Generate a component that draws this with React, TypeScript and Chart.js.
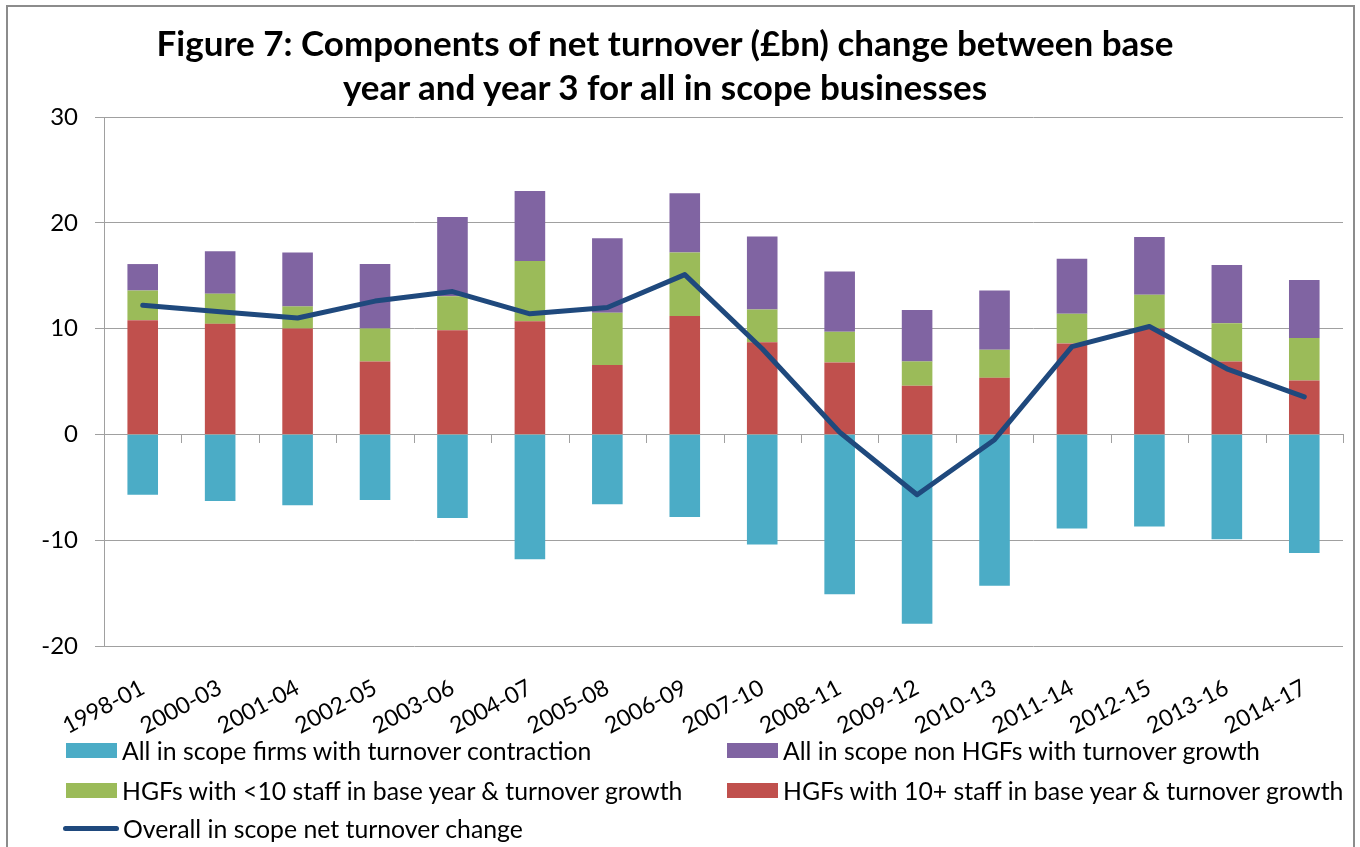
import React, { useEffect, useRef } from 'react';
import { Chart, registerables } from 'chart.js';

Chart.register(...registerables);

const categories = ['1998-01', '2000-03', '2001-04', '2002-05', '2003-06', '2004-07', '2005-08', '2006-09', '2007-10', '2008-11', '2009-12', '2010-13', '2011-14', '2012-15', '2013-16', '2014-17'];
const contraction = [-5.7, -6.3, -6.7, -6.2, -7.9, -11.8, -6.6, -7.8, -10.4, -15.1, -17.9, -14.3, -8.9, -8.7, -9.9, -11.2];
const nonHgfGrowth = [2.5, 4.0, 5.1, 6.1, 7.5, 6.6, 7.05, 5.6, 6.9, 5.7, 4.85, 5.6, 5.2, 5.45, 5.5, 5.5];
const hgfSmallGrowth = [2.8, 2.85, 2.1, 3.1, 3.2, 5.7, 4.95, 6.0, 3.1, 2.9, 2.3, 2.65, 2.8, 3.2, 3.6, 4.0];
const hgfLargeGrowth = [10.8, 10.45, 10.0, 6.9, 9.85, 10.7, 6.55, 11.2, 8.7, 6.8, 4.6, 5.35, 8.6, 10.0, 6.9, 5.1];
const netChange = [12.2, 11.6, 11.0, 12.6, 13.5, 11.4, 12.0, 15.1, 8.1, 0.2, -5.7, -0.5, 8.3, 10.2, 6.2, 3.55];
const yMin = -20;
const yMax = 30;
const yStep = 10;

const titleLines = [
  'Figure 7: Components of net turnover (£bn) change between base',
  'year and year 3 for all in scope businesses',
];

const LBL_CONTRACTION = 'All in scope firms with turnover contraction';
const LBL_NONHGF = 'All in scope non HGFs with turnover growth';
const LBL_SMALL = 'HGFs with <10 staff in base year & turnover growth';
const LBL_LARGE = 'HGFs with 10+ staff in base year & turnover growth';
const LBL_NET = 'Overall in scope net turnover change';

const C_CONTRACTION = '#4BACC6';
const C_NONHGF = '#8064A2';
const C_SMALL = '#9BBB59';
const C_LARGE = '#C0504D';
const C_NET = '#1F497D';
const GRID = '#a0a0a0';
const FONT = 'Lato, "Open Sans", "DejaVu Sans", sans-serif';

const zeroTickPlugin = {
  id: 'zeroTicks',
  beforeDatasetsDraw(chart: any) {
    const xs = chart.scales.x;
    const ys = chart.scales.y;
    const y0 = Math.round(ys.getPixelForValue(0));
    const ctx = chart.ctx;
    const n = categories.length;
    ctx.save();
    ctx.strokeStyle = GRID;
    ctx.lineWidth = 1;
    ctx.beginPath();
    for (let i = 1; i <= n; i++) {
      const px = i < n ? (xs.getPixelForValue(i - 1) + xs.getPixelForValue(i)) / 2 : chart.chartArea.right;
      const ax = Math.round(px) + 0.5;
      ctx.moveTo(ax, y0);
      ctx.lineTo(ax, y0 + 9);
    }
    ctx.stroke();
    ctx.restore();
  },
};

type LegendItem = { label: string; color: string; kind: 'box' | 'line'; left: number; cy: number };
const legendItems: LegendItem[] = [
  { label: LBL_CONTRACTION, color: C_CONTRACTION, kind: 'box', left: 66, cy: 750 },
  { label: LBL_NONHGF, color: C_NONHGF, kind: 'box', left: 727, cy: 750 },
  { label: LBL_SMALL, color: C_SMALL, kind: 'box', left: 66, cy: 790 },
  { label: LBL_LARGE, color: C_LARGE, kind: 'box', left: 727, cy: 790 },
  { label: LBL_NET, color: C_NET, kind: 'line', left: 63, cy: 828 },
];

export default function App() {
  const canvasRef = useRef<HTMLCanvasElement | null>(null);

  useEffect(() => {
    if (!canvasRef.current) return;
    Chart.defaults.font.family = FONT;
    const chart = new Chart(canvasRef.current, {
      type: 'bar',
      data: {
        labels: categories,
        datasets: [
          {
            type: 'line',
            label: LBL_NET,
            data: netChange,
            borderColor: C_NET,
            backgroundColor: C_NET,
            borderWidth: 5,
            pointRadius: 0,
            tension: 0,
            order: 0,
            stack: 'net',
            borderCapStyle: 'round',
            borderJoinStyle: 'round',
          } as any,
          { type: 'bar', label: LBL_LARGE, data: hgfLargeGrowth, backgroundColor: C_LARGE, order: 1, stack: 'bars' },
          { type: 'bar', label: LBL_SMALL, data: hgfSmallGrowth, backgroundColor: C_SMALL, order: 1, stack: 'bars' },
          { type: 'bar', label: LBL_NONHGF, data: nonHgfGrowth, backgroundColor: C_NONHGF, order: 1, stack: 'bars' },
          { type: 'bar', label: LBL_CONTRACTION, data: contraction, backgroundColor: C_CONTRACTION, order: 1, stack: 'bars' },
        ],
      },
      options: {
        responsive: false,
        animation: false,
        events: [],
        layout: { padding: { left: 10, right: 17, top: 117, bottom: 101 } },
        datasets: { bar: { categoryPercentage: 1, barPercentage: 0.395 } } as any,
        plugins: {
          legend: { display: false },
          title: { display: false },
          tooltip: { enabled: false },
        },
        scales: {
          x: {
            stacked: true,
            grid: { display: false, drawTicks: false },
            border: { display: false },
            ticks: {
              autoSkip: false,
              minRotation: 28,
              maxRotation: 28,
              padding: 28,
              color: '#000',
              font: { size: 23 },
            },
            afterFit: (s: any) => {
              s.height = 100;
            },
          },
          y: {
            stacked: true,
            min: yMin,
            max: yMax,
            ticks: { stepSize: yStep, padding: 17, color: '#000', font: { size: 24 } },
            grid: { color: GRID, tickLength: 9, lineWidth: 1 },
            border: { display: true, color: GRID, width: 1 },
            afterFit: (s: any) => {
              s.width = 94;
            },
          },
        },
      },
      plugins: [zeroTickPlugin],
    });
    return () => chart.destroy();
  }, []);

  return (
    <div style={{ position: 'absolute', left: 0, top: 0, width: 1360, height: 847, overflow: 'hidden', background: '#fff', fontFamily: FONT }}>
      <div style={{ position: 'absolute', left: 6, top: 5, width: 1349, height: 900, border: '2px solid #8c8c8c', boxSizing: 'border-box' }} />
      <canvas ref={canvasRef} width={1360} height={847} style={{ position: 'absolute', left: 0, top: 0, width: 1360, height: 847 }} />
      <div style={{ position: 'absolute', left: 0, top: 20, width: 1330, textAlign: 'center', fontWeight: 700, fontSize: 35, lineHeight: '44px', color: '#000' }}>
        {titleLines.map((t) => (
          <div key={t}>{t}</div>
        ))}
      </div>
      {legendItems.map((it) => (
        <div key={it.label} style={{ position: 'absolute', left: it.left, top: it.cy - 15, height: 30, display: 'flex', alignItems: 'center', fontSize: 24.8, color: '#000', whiteSpace: 'nowrap' }}>
          {it.kind === 'box' ? (
            <span style={{ display: 'inline-block', width: 51, height: 15, background: it.color, marginRight: 5 }} />
          ) : (
            <span style={{ display: 'inline-block', width: 56, height: 5, borderRadius: 3, background: it.color, marginRight: 4 }} />
          )}
          <span>{it.label}</span>
        </div>
      ))}
    </div>
  );
}
